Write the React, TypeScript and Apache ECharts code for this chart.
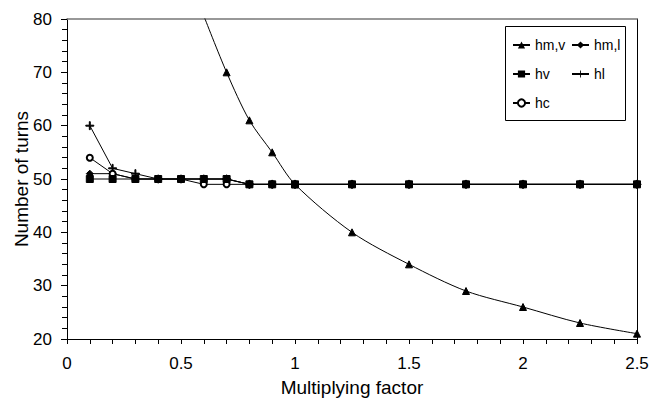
import React, { useEffect, useRef } from "react";
import * as echarts from "echarts";

const xFactors = [0.1, 0.2, 0.3, 0.4, 0.5, 0.6, 0.7, 0.8, 0.9, 1.0, 1.25, 1.5, 1.75, 2.0, 2.25, 2.5];
const hmlValues = [51, 51, 50, 50, 50, 50, 50, 49, 49, 49, 49, 49, 49, 49, 49, 49];
const hvValues = [50, 50, 50, 50, 50, 50, 50, 49, 49, 49, 49, 49, 49, 49, 49, 49];
const hlValues = [60, 52, 51, 50, 50, 50, 50, 49, 49, 49, 49, 49, 49, 49, 49, 49];
const hcValues = [54, 51, 50, 50, 50, 49, 49, 49, 49, 49, 49, 49, 49, 49, 49, 49];

const hmvFactors = [0.6, 0.7, 0.8, 0.9, 1.0, 1.25, 1.5, 1.75, 2.0, 2.25, 2.5];
const hmvValues = [80.6, 70, 61, 55, 49, 40, 34, 29, 26, 23, 21];

const seriesNames = ["hm,v", "hm,l", "hv", "hl", "hc"];

const PLUS = "path://M4.4,0h1.2v4.4h4.4v1.2h-4.4v4.4h-1.2v-4.4h-4.4v-1.2h4.4z";
const FONT = "'Liberation Sans', Arial, sans-serif";

export default function App() {
  const ref = useRef<HTMLDivElement>(null);
  useEffect(() => {
    if (!ref.current) return;
    const chart = echarts.init(ref.current, undefined, { renderer: "svg" });
    const pair = (xs: number[], ys: number[]) => xs.map((x, i) => [x, ys[i]]);
    const lineBase = {
      type: "line",
      lineStyle: { color: "#000", width: 1 },
      itemStyle: { color: "#000", borderColor: "#000" },
      emphasis: { disabled: true },
      clip: true,
    };
    const legendCommon = {
      orient: "vertical",
      itemWidth: 17,
      itemHeight: 9,
      itemGap: 13,
      textStyle: { fontFamily: FONT, fontSize: 14, color: "#000", lineHeight: 16 },
      selectedMode: false,
    };
    chart.setOption({
      animation: false,
      backgroundColor: "#fff",
      textStyle: { fontFamily: FONT },
      grid: { left: 67, right: 13, top: 19, bottom: 59, containLabel: false, outerBoundsMode: "none" },
      legend: [
        { ...legendCommon, left: 507, top: 32, data: ["hm,v", "hv", "hc"] },
        { ...legendCommon, left: 566, top: 32, data: ["hm,l", "hl"] },
      ],
      graphic: [
        {
          type: "rect",
          shape: { x: 505.5, y: 26.5, width: 120, height: 94 },
          style: { fill: "none", stroke: "#000", lineWidth: 1 },
          z: 0,
        },
      ],
      xAxis: [
        {
          type: "value",
          min: 0,
          max: 2.5,
          interval: 0.5,
          name: "Multiplying factor",
          nameLocation: "middle",
          nameGap: 39,
          nameMoveOverlap: false,
          nameTextStyle: { fontFamily: FONT, fontSize: 19, color: "#000" },
          axisLine: { onZero: false, lineStyle: { color: "#000", width: 1 } },
          axisTick: { show: true, length: 5, lineStyle: { color: "#000" } },
          minorTick: { show: true, splitNumber: 5, length: 5, lineStyle: { color: "#000" } },
          axisLabel: { margin: 16, fontFamily: FONT, fontSize: 17, color: "#000" },
          splitLine: { show: false },
        },
        {
          type: "value",
          position: "top",
          min: 0,
          max: 2.5,
          axisLine: { show: true, lineStyle: { color: "#777", width: 1.5 } },
          axisTick: { show: false },
          axisLabel: { show: false },
          splitLine: { show: false },
        },
      ],
      yAxis: [
        {
          type: "value",
          min: 20,
          max: 80,
          interval: 10,
          name: "Number of turns",
          nameLocation: "middle",
          nameGap: 36,
          nameMoveOverlap: false,
          nameTextStyle: { fontFamily: FONT, fontSize: 19, color: "#000" },
          axisLine: { show: true, onZero: false, lineStyle: { color: "#000", width: 1 } },
          axisTick: { show: true, length: 6, lineStyle: { color: "#000" } },
          minorTick: { show: true, splitNumber: 5, length: 5, lineStyle: { color: "#000" } },
          axisLabel: { margin: 15, fontFamily: FONT, fontSize: 17, color: "#000" },
          splitLine: { show: false },
        },
        {
          type: "value",
          position: "right",
          min: 20,
          max: 80,
          axisLine: { show: true, onZero: false, lineStyle: { color: "#000", width: 1 } },
          axisTick: { show: false },
          axisLabel: { show: false },
          splitLine: { show: false },
        },
      ],
      series: [
        {
          ...lineBase,
          name: seriesNames[0],
          smooth: 0.3,
          symbol: "triangle",
          symbolSize: 7,
          z: 3,
          data: pair(hmvFactors, hmvValues).map((p, i) =>
            i === 0 ? { value: p, symbol: "none" } : p
          ),
        },
        {
          ...lineBase,
          name: seriesNames[1],
          symbol: "diamond",
          symbolSize: 7,
          z: 4,
          data: pair(xFactors, hmlValues),
        },
        {
          ...lineBase,
          name: seriesNames[2],
          symbol: "rect",
          symbolSize: 7,
          z: 6,
          data: pair(xFactors, hvValues),
        },
        {
          ...lineBase,
          name: seriesNames[3],
          symbol: PLUS,
          symbolSize: 8,
          z: 5,
          data: pair(xFactors, hlValues),
        },
        {
          ...lineBase,
          name: seriesNames[4],
          symbol: "emptyCircle",
          symbolSize: 6,
          itemStyle: { color: "#000", borderColor: "#000", borderWidth: 1 },
          z: 5,
          data: pair(xFactors, hcValues),
        },
      ],
    });
    return () => chart.dispose();
  }, []);
  return (
    <div
      ref={ref}
      style={{ position: "fixed", left: 0, top: 0, width: 650, height: 398 }}
    />
  );
}
